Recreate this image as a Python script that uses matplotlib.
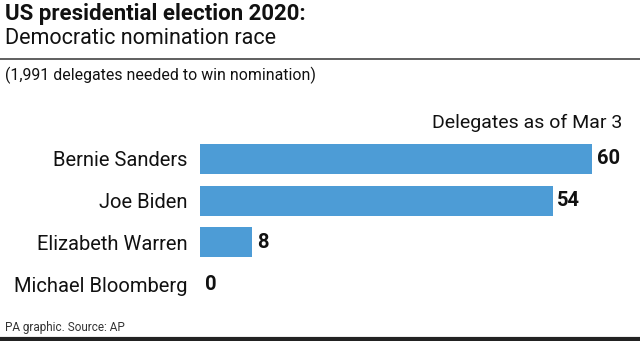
import matplotlib.pyplot as plt

candidates = ['Bernie Sanders', 'Joe Biden', 'Elizabeth Warren', 'Michael Bloomberg']
delegates = [60, 54, 8, 0]

plt.rcParams['font.family'] = ['Roboto', 'DejaVu Sans']

fig = plt.figure(figsize=(6.4, 3.41), dpi=100)
W, H = 640, 341

# titles and header rule
fig.text(5 / W, 1 - 3 / H, 'US presidential election 2020:', fontsize=16, fontweight='bold',
         va='top', ha='left', color='#111111')
fig.text(5 / W, 1 - 28 / H, 'Democratic nomination race', fontsize=15.5,
         va='top', ha='left', color='#111111')
fig.add_artist(plt.Line2D([0, 1], [1 - 59 / H, 1 - 59 / H], color='#444444', linewidth=1.2))
fig.text(5 / W, 1 - 67 / H, '(1,991 delegates needed to win nomination)', fontsize=11.4,
         va='top', ha='left', color='#111111')

ax = fig.add_axes([200 / W, 1 - 305 / H, 392 / W, 167 / H])
ypos = range(len(candidates))
ax.barh(ypos, delegates, height=0.72, color='#4d9cd6')
ax.set_xlim(0, 60)
ax.set_ylim(3.5, -0.5)
for y, v in zip(ypos, delegates):
    ax.text(v + 0.7, y, str(v), va='center', ha='left', fontsize=14.5, fontweight='bold', color='#111111')
ax.set_yticks(list(ypos))
ax.set_yticklabels(candidates, fontsize=14.5, color='#111111')
ax.tick_params(axis='y', length=0, pad=9)
ax.set_xticks([])
for s in ax.spines.values():
    s.set_visible(False)

fig.text(622 / W, 1 - 114 / H, 'Delegates as of Mar 3', fontsize=14,
         va='top', ha='right', color='#111111')

fig.text(5 / W, 1 - 327 / H, 'PA graphic. Source: AP', fontsize=8.5,
         va='center', ha='left', color='#333333')
fig.add_artist(plt.Line2D([0, 1], [1 - 339 / H, 1 - 339 / H], color='#222222', linewidth=3))

fig.savefig('out.png', dpi=100)
